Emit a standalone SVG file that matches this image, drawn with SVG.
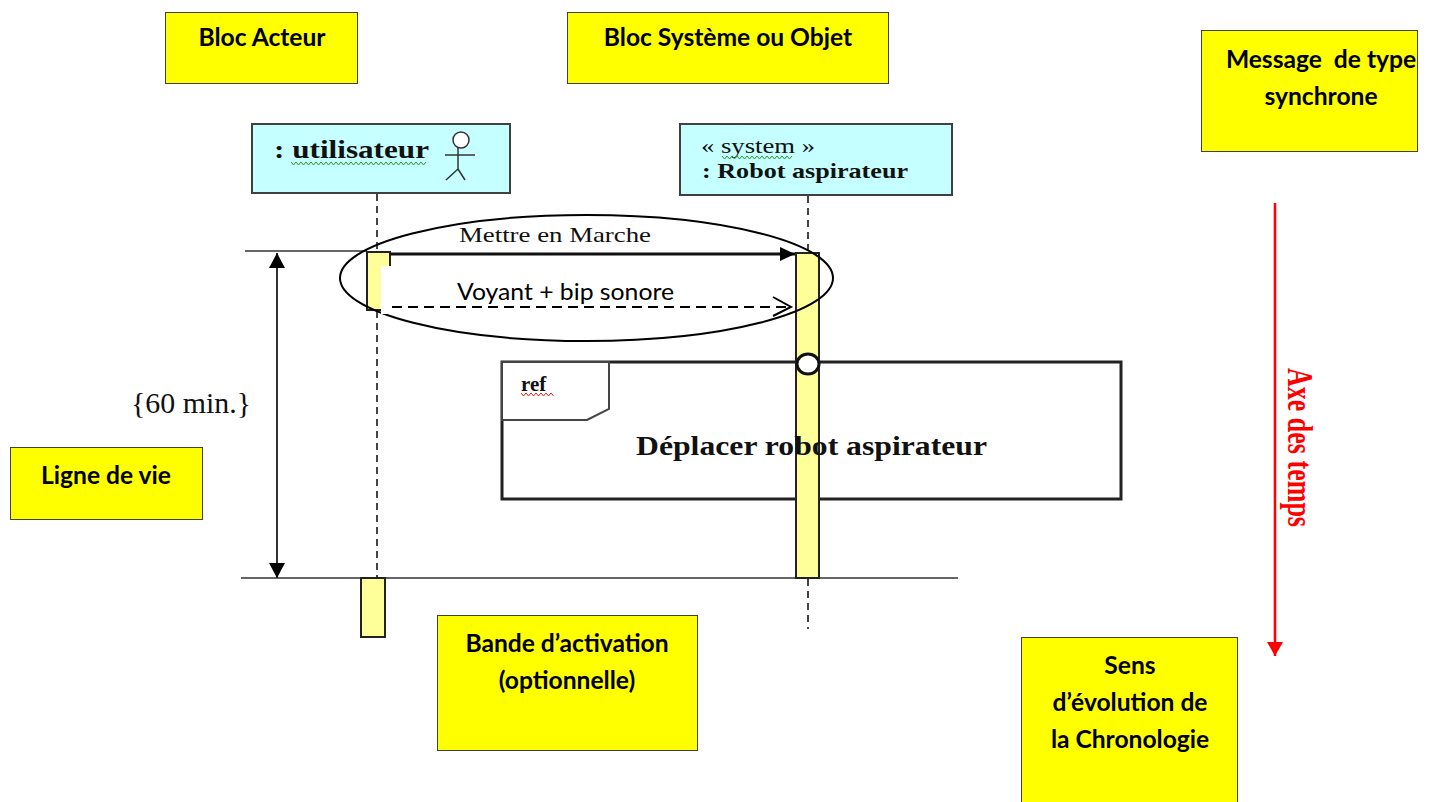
<svg xmlns="http://www.w3.org/2000/svg" width="1449" height="802" viewBox="0 0 1449 802">
<style>
.note{fill:#ffff00;stroke:#404040;stroke-width:1}
.nt{font-family:"Lato","Carlito","Liberation Sans",sans-serif;font-weight:700;font-size:24.600px;fill:#000;text-anchor:middle;white-space:pre}
.head{fill:#c5ffff;stroke:#404040;stroke-width:2}
.ser{font-family:"Liberation Serif",serif;fill:#111}
.b{font-weight:700}
.act{fill:#ffff99;stroke:#222;stroke-width:2}
.life{fill:none;stroke:#444;stroke-width:2;stroke-dasharray:7 5}
.thin{fill:none;stroke:#333;stroke-width:1.600}
.sq{fill:none;stroke-width:1}
</style>
<defs>
<marker id="bk" markerUnits="userSpaceOnUse" markerWidth="16" markerHeight="14" refX="15" refY="7" orient="auto"><path d="M0 0L15 7L0 14Z" fill="#000"/></marker>
<marker id="vk" markerUnits="userSpaceOnUse" markerWidth="16" markerHeight="16" refX="15" refY="8" orient="auto-start-reverse"><path d="M0 0L15 8L0 16Z" fill="#000"/></marker>
<marker id="rd" markerUnits="userSpaceOnUse" markerWidth="15" markerHeight="16" refX="14" refY="8" orient="auto"><path d="M0 0L14 8L0 16Z" fill="#ff0000"/></marker>
</defs>
<rect width="1449" height="802" fill="#fff"/>

<g id="note-acteur"><rect class="note" x="165.500" y="12.500" width="192" height="71"/><text class="nt" x="262" y="46">Bloc Acteur</text></g>
<g id="note-systeme"><rect class="note" x="567.500" y="12.500" width="321" height="71"/><text class="nt" x="728" y="46">Bloc Système ou Objet</text></g>
<g id="note-message"><rect class="note" x="1201.500" y="30.500" width="216" height="121"/><text class="nt" x="1321" y="68">Message  de type</text><text class="nt" x="1321" y="105">synchrone</text></g>
<g id="note-ligne"><rect class="note" x="10.500" y="447.500" width="192" height="72"/><text class="nt" x="106" y="484">Ligne de vie</text></g>
<g id="note-bande"><rect class="note" x="437.500" y="615.500" width="260" height="135"/><text class="nt" x="567" y="652">Bande d’activation</text><text class="nt" x="567" y="689">(optionnelle)</text></g>
<g id="note-sens"><rect class="note" x="1021.500" y="637.500" width="216" height="170"/><text class="nt" x="1130" y="674">Sens</text><text class="nt" x="1130" y="711">d’évolution de</text><text class="nt" x="1130" y="748">la Chronologie</text></g>

<g id="connectors">
<path class="life" d="M377 194V251M377 311V578"/>
<path class="life" d="M808 196V252M808 579V629"/>
<path class="thin" d="M245 251H367"/>
<path class="thin" d="M241 578H958"/>
<path d="M277 253V578" fill="none" stroke="#333" stroke-width="2" marker-start="url(#vk)" marker-end="url(#vk)"/>
<path d="M1275 203V656" fill="none" stroke="#ff0000" stroke-width="2.500" marker-end="url(#rd)"/>
</g>

<g id="frame-ref">
<rect x="502" y="362" width="619" height="137" fill="#fff" stroke="#222" stroke-width="3"/>
<path d="M502 362H609V409L587 420H502Z" fill="#fff" stroke="#444" stroke-width="2"/>
<text class="ser b" x="521" y="391" font-size="21">ref</text>
<path class="sq" stroke="#e02020" d="M521 393l2.500 3 2.500-3 2.500 3 2.500-3 2.500 3 2.500-3 2.500 3 2.500-3 2.500 3 2.500-3 2.500 3 2.500-3 2.500 3"/>
</g>

<g id="activation-gauche">
<rect class="act" x="367" y="252" width="23" height="58"/>
</g>
<g id="activation-droite"><rect class="act" x="796" y="253" width="23" height="325"/></g>
<g id="activation-bas"><rect class="act" x="361" y="578" width="24" height="59"/></g>

<g id="messages">
<path d="M390 254H795" fill="none" stroke="#111" stroke-width="3" marker-end="url(#bk)"/>
<path d="M392 307H789" fill="none" stroke="#000" stroke-width="2" stroke-dasharray="10 6"/>
<path d="M773 297L791 307L773 316" fill="none" stroke="#000" stroke-width="2"/>
<text class="ser" x="459" y="242" font-size="22" textLength="192" lengthAdjust="spacingAndGlyphs">Mettre en Marche</text>
</g>

<g id="ellipse-message">
<ellipse cx="586.500" cy="278" rx="246.500" ry="63" fill="none" stroke="#000" stroke-width="2"/>
</g>

<g id="masque-voyant">
<path d="M381 266H401V304H392V314H381Z" fill="#fff"/>
<path d="M392 307H401" fill="none" stroke="#000" stroke-width="2"/>
<text x="457" y="300" font-family="Lato,Carlito,'Liberation Sans',sans-serif" font-size="23" fill="#000" textLength="217" lengthAdjust="spacingAndGlyphs">Voyant + bip sonore</text>
</g>

<g id="jonction-ref"><ellipse cx="808" cy="364" rx="11" ry="10" fill="#fff" stroke="#111" stroke-width="3"/></g>

<g id="acteur">
<rect class="head" x="252" y="124" width="258" height="69"/>
<text class="ser b" x="274" y="158" font-size="26" textLength="155" lengthAdjust="spacingAndGlyphs">: utilisateur</text>
<path class="sq" stroke="#2a9a2a" d="M291 162l2.500 3 2.500-3 2.500 3 2.500-3 2.500 3 2.500-3 2.500 3 2.500-3 2.500 3 2.500-3 2.500 3 2.500-3 2.500 3 2.500-3 2.500 3 2.500-3 2.500 3 2.500-3 2.500 3 2.500-3 2.500 3 2.500-3 2.500 3 2.500-3 2.500 3 2.500-3 2.500 3 2.500-3 2.500 3 2.500-3 2.500 3 2.500-3 2.500 3 2.500-3 2.500 3 2.500-3 2.500 3 2.500-3 2.500 3 2.500-3 2.500 3 2.500-3 2.500 3 2.500-3 2.500 3 2.500-3 2.500 3 2.500-3 2.500 3 2.500-3 2.500 3 2.500-3 2.500 3 2.500-3"/>
<circle cx="461" cy="140" r="8" fill="#fff" stroke="#333" stroke-width="1.500"/>
<path d="M445 155H475M458 148V169M458 169L446 180M458 169L465 180" fill="none" stroke="#333" stroke-width="1.500"/>
</g>

<g id="systeme">
<rect class="head" x="680" y="124" width="272" height="71"/>
<text class="ser" x="701" y="153" font-size="20" textLength="114" lengthAdjust="spacingAndGlyphs">« system »</text>
<path class="sq" stroke="#2a9a2a" d="M722 156l2.500 3 2.500-3 2.500 3 2.500-3 2.500 3 2.500-3 2.500 3 2.500-3 2.500 3 2.500-3 2.500 3 2.500-3 2.500 3 2.500-3 2.500 3 2.500-3 2.500 3 2.500-3 2.500 3 2.500-3 2.500 3 2.500-3 2.500 3 2.500-3 2.500 3 2.500-3 2.500 3 2.500-3"/>
<text class="ser b" x="702" y="178" font-size="21" textLength="206" lengthAdjust="spacingAndGlyphs">: Robot aspirateur</text>
</g>

<g id="labels">
<text class="ser b" x="636" y="455" font-size="27" textLength="351" lengthAdjust="spacingAndGlyphs">Déplacer robot aspirateur</text>
<text class="ser" x="131" y="413" font-size="29" textLength="120" lengthAdjust="spacingAndGlyphs">{60 min.}</text>
<text class="ser b" transform="translate(1288 368) rotate(90)" font-size="36" textLength="159" lengthAdjust="spacingAndGlyphs" style="fill:#ff0000">Axe des temps</text>
</g>
</svg>
